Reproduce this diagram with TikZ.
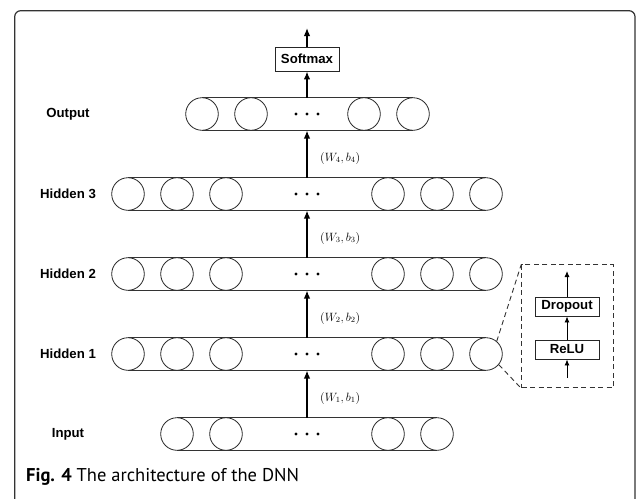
\documentclass[tikz,border=0pt]{standalone}
\usepackage{fontspec}
\setmainfont{Liberation Sans}
\newfontfamily\capfont{PT Sans}
\usetikzlibrary{arrows.meta}
\tikzset{
  neuron/.style={circle, draw=black!85, line width=0.8pt, minimum size=32.6pt, inner sep=0pt},
  layerline/.style={draw=black!80, line width=1pt},
  layeranchor/.style={inner sep=0pt, minimum width=1pt, minimum height=32.6pt},
  lbl/.style={font=\bfseries\fontsize{13.2}{14}\selectfont, anchor=center},
  arr/.style={line width=1.4pt, -{Latex[length=8pt,width=6.5pt]}},
  smallarr/.style={line width=0.9pt, -{Latex[length=6pt,width=5pt]}},
  boxnode/.style={draw=black!85, line width=0.9pt, minimum width=64pt, font=\bfseries\fontsize{13.2}{14}\selectfont, inner sep=0pt},
  wlabel/.style={anchor=west, inner sep=0pt, font=\fontsize{12}{12}\selectfont},
  dashline/.style={draw=black!80, line width=0.9pt, dash pattern=on 5pt off 3.5pt},
}
\begin{document}
\begin{tikzpicture}[x=1pt,y=-1pt]
\useasboundingbox (0,0) rectangle (637,498);
% frame
\draw[black!80, line width=1.2pt, rounded corners=6pt] (14.7,520) -- (14.7,10.7) -- (635,10.7) -- (635,520);

% layer macro-like drawing
% Output layer
\foreach \n/\x in {1/202,2/251,3/364,4/413} {\node[neuron] (oc\n) at (\x,114) {};}
\draw[layerline] (oc1.north) -- (oc4.north) (oc1.south) -- (oc4.south);
\node[layeranchor] (out) at (307,114) {};
% Hidden 3
\foreach \n/\x in {1/128,2/177,3/226,4/388,5/437,6/486} {\node[neuron] (hc\n) at (\x,194) {};}
\draw[layerline] (hc1.north) -- (hc6.north) (hc1.south) -- (hc6.south);
\node[layeranchor] (h3) at (307,194) {};
% Hidden 2
\foreach \n/\x in {1/128,2/177,3/226,4/388,5/437,6/486} {\node[neuron] (gc\n) at (\x,274) {};}
\draw[layerline] (gc1.north) -- (gc6.north) (gc1.south) -- (gc6.south);
\node[layeranchor] (h2) at (307,274) {};
% Hidden 1
\foreach \n/\x in {1/128,2/177,3/226,4/388,5/437,6/486} {\node[neuron] (fc\n) at (\x,354) {};}
\draw[layerline] (fc1.north) -- (fc6.north) (fc1.south) -- (fc6.south);
\node[layeranchor] (h1) at (307,354) {};
% Input
\foreach \n/\x in {1/177,2/226,3/388,4/437} {\node[neuron] (ic\n) at (\x,434) {};}
\draw[layerline] (ic1.north) -- (ic4.north) (ic1.south) -- (ic4.south);
\node[layeranchor] (in) at (307,434) {};

% dots
\foreach \y in {114,194,274,354,434} {
  \foreach \x in {296,307,318} {\fill (\x,\y) circle (1.6pt);}
}

% layer labels
\node[lbl] (lo) at (68,114) {Output};
\node[lbl] (l3) at (68,194) {Hidden 3};
\node[lbl] (l2) at (68,274) {Hidden 2};
\node[lbl] (l1) at (68,354) {Hidden 1};
\node[lbl] (li) at (68,434) {Input};

% softmax
\node[boxnode, minimum height=24pt] (soft) at (307,59) {Softmax};
\coordinate (top) at (307,28);
\draw[arr] (out.north) -- (soft.south);
\draw[arr] (soft.north) -- (top);

% inter-layer arrows
\draw[arr] (in.north) -- (h1.south);
\draw[arr] (h1.north) -- (h2.south);
\draw[arr] (h2.north) -- (h3.south);
\draw[arr] (h3.north) -- (out.south);

% weight labels
\node[wlabel] (w4) at (320,158) {$(W_4,b_4)$};
\node[wlabel] (w3) at (320,238) {$(W_3,b_3)$};
\node[wlabel] (w2) at (320,318) {$(W_2,b_2)$};
\node[wlabel] (w1) at (320,398) {$(W_1,b_1)$};

% inset
\node[dashline, draw, minimum width=91.6pt, minimum height=123pt, inner sep=0pt] (inset) at (567.5,326.4) {};
\draw[dashline] (fc6.50) -- (inset.north west);
\draw[dashline] (fc6.-40) -- (inset.south west);
\node[boxnode, minimum height=19pt] (drop) at (567,306.5) {Dropout};
\node[boxnode, minimum height=19pt] (relu) at (567,349.5) {ReLU};
\coordinate (rin) at (567,378);
\coordinate (rout) at (567,271);
\draw[smallarr] (rin) -- (relu.south);
\draw[smallarr] (relu.north) -- (drop.south);
\draw[smallarr] (drop.north) -- (rout);

% caption
\node[anchor=base west, inner sep=0pt, font=\capfont\fontsize{18.5}{20}\selectfont] (cap) at (26,481) {\textbf{Fig. 4} The architecture of the DNN};
\end{tikzpicture}
\end{document}
